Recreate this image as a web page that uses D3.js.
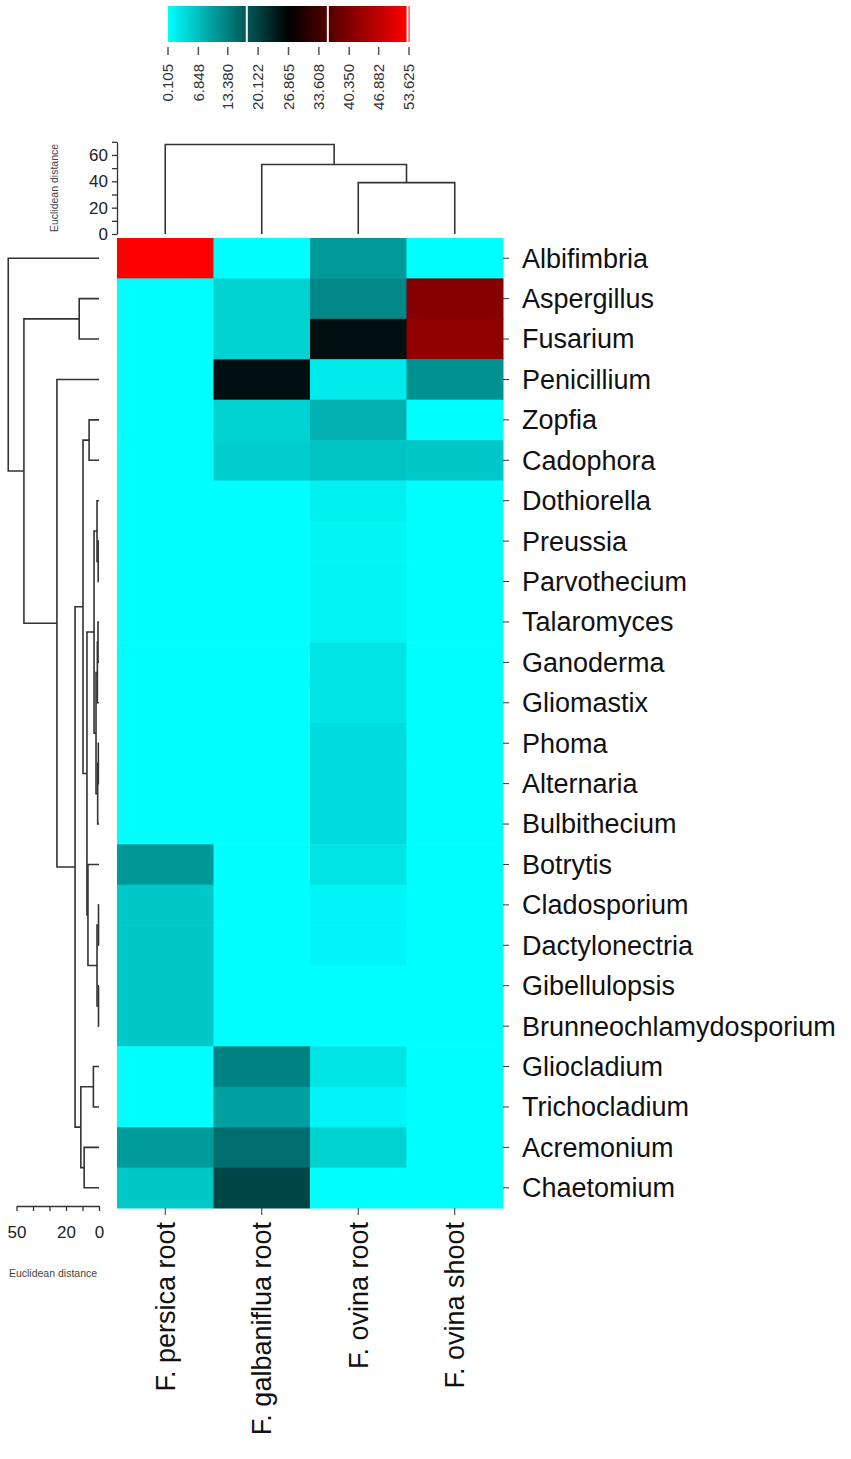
<!DOCTYPE html>
<html>
<head>
<meta charset="utf-8">
<title>Fungal genera heatmap</title>
<script src="https://cdn.jsdelivr.net/npm/d3@7"></script>
<style>
  body { margin: 0; background: #fff; }
  text { font-family: "Liberation Sans", Arial, sans-serif; }
</style>
</head>
<body>
<div id="chart"></div>
<script>
// rows (genera) in dendrogram order, columns (samples)
const rowNames = [
  "Albifimbria", "Aspergillus", "Fusarium", "Penicillium", "Zopfia", "Cadophora",
  "Dothiorella", "Preussia", "Parvothecium", "Talaromyces", "Ganoderma", "Gliomastix",
  "Phoma", "Alternaria", "Bulbithecium", "Botrytis", "Cladosporium", "Dactylonectria",
  "Gibellulopsis", "Brunneochlamydosporium", "Gliocladium", "Trichocladium",
  "Acremonium", "Chaetomium"
];
const colNames = ["F. persica root", "F. galbaniflua root", "F. ovina root", "F. ovina shoot"];

// cell values, one array per column, same order as rowNames
const persicaRoot = [53.625, 0.105, 0.105, 0.105, 0.105, 0.105, 0.105, 0.105, 0.105, 0.105, 0.105, 0.105,
  0.105, 0.105, 0.105, 11.0, 5.9, 5.9, 5.9, 5.9, 0.105, 0.105, 10.6, 5.9];
const galbanifluaRoot = [0.105, 4.9, 4.9, 25.3, 4.9, 5.4, 0.105, 0.105, 0.105, 0.105, 0.105, 0.105,
  0.105, 0.105, 0.105, 0.105, 0.105, 0.105, 0.105, 0.105, 13.2, 10.1, 15.3, 19.5];
const ovinaRoot = [10.7, 12.7, 25.3, 2.2, 8.5, 6.4, 1.8, 1.2, 1.2, 1.2, 2.9, 2.9,
  3.9, 3.9, 3.9, 2.9, 1.1, 1.1, 0.105, 0.105, 2.9, 1.1, 4.8, 0.105];
const ovinaShoot = [0.105, 41.0, 42.0, 11.6, 0.105, 5.9, 0.105, 0.105, 0.105, 0.105, 0.105, 0.105,
  0.105, 0.105, 0.105, 0.105, 0.105, 0.105, 0.105, 0.105, 0.105, 0.105, 0.105, 0.105];

// hclust style merges: [left, right, height]; a string is a leaf, a number an earlier merge
const rowMerges = [
  ["Aspergillus", "Fusarium", 12],          // 0
  ["Zopfia", "Cadophora", 6],               // 1
  ["Preussia", "Parvothecium", 0.5],        // 2
  ["Dothiorella", 2, 1.2],                  // 3
  ["Talaromyces", "Ganoderma", 0.6],        // 4
  [4, "Gliomastix", 1.0],                   // 5
  ["Phoma", "Alternaria", 0.4],             // 6
  [6, "Bulbithecium", 0.8],                 // 7
  [5, 7, 1.8],                              // 8
  [3, 8, 3],                                // 9
  ["Cladosporium", "Dactylonectria", 0.3],  // 10
  ["Gibellulopsis", "Brunneochlamydosporium", 0.3], // 11
  [10, 11, 1.2],                            // 12
  ["Botrytis", 12, 6.7],                    // 13
  [9, 13, 7.3],                             // 14
  [1, 14, 9.7],                             // 15
  ["Gliocladium", "Trichocladium", 3.4],    // 16
  ["Acremonium", "Chaetomium", 9],          // 17
  [16, 17, 11],                             // 18
  [15, 18, 14.5],                           // 19
  ["Penicillium", 19, 25.5],                // 20
  [0, 20, 45.5],                            // 21
  ["Albifimbria", 21, 55]                   // 22
];
const colMerges = [
  ["F. ovina root", "F. ovina shoot", 39],
  ["F. galbaniflua root", 0, 52.8],
  ["F. persica root", 1, 68]
];

// axes and legend
const rowAxisTicks = [0, 10, 20, 30, 40, 50];
const rowAxisLabels = [50, 20, 0];
const colAxisTicks = [0, 10, 20, 30, 40, 50, 60, 70];
const colAxisLabels = [0, 20, 40, 60];
const legendTicks = [0.105, 6.848, 13.380, 20.122, 26.865, 33.608, 40.350, 46.882, 53.625];
const legendBreaks = [17.6, 35.6, 53.3];

const W = 851, H = 1459;
const svg = d3.select("#chart").append("svg")
  .attr("width", W)
  .attr("height", H);
svg.append("rect").attr("width", W).attr("height", H).attr("fill", "#fff");

const x = d3.scaleBand().domain(colNames).range([117, 503]);
const y = d3.scaleBand().domain(rowNames).range([238, 1208]);
const rowH = d3.scaleLinear().domain([0, 50]).range([99, 16.5]);
const colH = d3.scaleLinear().domain([0, 70]).range([234, 141.8]);
const color = d3.scaleLinear()
  .domain([0.105, 26.865, 53.625])
  .range(["#00ffff", "#000000", "#ff0000"])
  .clamp(true);

// heatmap
const matrix = [persicaRoot, galbanifluaRoot, ovinaRoot, ovinaShoot];
const cells = rowNames.flatMap(function (r, i) {
  return colNames.map(function (c, j) {
    return { row: r, col: c, value: matrix[j][i] };
  });
});

svg.append("g").selectAll("rect")
  .data(cells)
  .enter().append("rect")
  .attr("x", d => x(d.col))
  .attr("y", d => y(d.row))
  .attr("width", x.bandwidth() + 0.5)
  .attr("height", y.bandwidth() + 0.5)
  .attr("fill", d => color(d.value));

// dendrograms
function buildTree(merges, leafPos) {
  const nodes = [];
  const get = ref => typeof ref === "string" ? { pos: leafPos(ref), h: 0 } : nodes[ref];
  merges.forEach(function (m) {
    const a = get(m[0]), b = get(m[1]);
    nodes.push({ a: a, b: b, h: m[2], pos: (a.pos + b.pos) / 2 });
  });
  return nodes;
}

const line = d3.line();

const rowTree = buildTree(rowMerges, r => y(r) + y.bandwidth() / 2);
svg.append("g")
  .attr("fill", "none")
  .attr("stroke", "#333")
  .attr("stroke-width", 1.6)
  .selectAll("path")
  .data(rowTree)
  .enter().append("path")
  .attr("d", d => line([
    [rowH(d.a.h), d.a.pos], [rowH(d.h), d.a.pos],
    [rowH(d.h), d.b.pos], [rowH(d.b.h), d.b.pos]
  ]));

const colTree = buildTree(colMerges, c => x(c) + x.bandwidth() / 2);
svg.append("g")
  .attr("fill", "none")
  .attr("stroke", "#333")
  .attr("stroke-width", 1.6)
  .selectAll("path")
  .data(colTree)
  .enter().append("path")
  .attr("d", d => line([
    [d.a.pos, colH(d.a.h)], [d.a.pos, colH(d.h)],
    [d.b.pos, colH(d.h)], [d.b.pos, colH(d.b.h)]
  ]));

// dendrogram axes
const rowAxis = svg.append("g")
  .attr("transform", "translate(0,1206)")
  .call(d3.axisBottom(rowH)
    .tickValues(rowAxisTicks)
    .tickSize(5)
    .tickSizeOuter(0)
    .tickFormat(d => rowAxisLabels.includes(d) ? d : ""));
rowAxis.attr("font-size", 17).attr("font-family", "Liberation Sans, Arial, sans-serif");
rowAxis.selectAll("path, line").attr("stroke", "#333").attr("stroke-width", 1.3);
rowAxis.selectAll("text").attr("y", 20).attr("fill", "#222");

const colAxis = svg.append("g")
  .attr("transform", "translate(117,0)")
  .call(d3.axisLeft(colH)
    .tickValues(colAxisTicks)
    .tickSize(5)
    .tickSizeOuter(0)
    .tickFormat(d => colAxisLabels.includes(d) ? d : ""));
colAxis.attr("font-size", 17).attr("font-family", "Liberation Sans, Arial, sans-serif");
colAxis.selectAll("path, line").attr("stroke", "#333").attr("stroke-width", 1.3);
colAxis.selectAll("text").attr("x", -9).attr("fill", "#222");

svg.append("text")
  .attr("transform", "translate(58,188)rotate(-90)")
  .attr("text-anchor", "middle")
  .attr("font-size", 10.5)
  .attr("fill", "#444")
  .text("Euclidean distance");

svg.append("text")
  .attr("x", 53)
  .attr("y", 1277)
  .attr("text-anchor", "middle")
  .attr("font-size", 10.5)
  .attr("fill", "#444")
  .text("Euclidean distance");

// row and column labels with small ticks
svg.append("g").selectAll("line")
  .data(rowNames)
  .enter().append("line")
  .attr("x1", 503).attr("x2", 509)
  .attr("y1", d => y(d) + y.bandwidth() / 2)
  .attr("y2", d => y(d) + y.bandwidth() / 2)
  .attr("stroke", "#333");

svg.append("g").selectAll("text")
  .data(rowNames)
  .enter().append("text")
  .attr("x", 522)
  .attr("y", d => y(d) + y.bandwidth() / 2)
  .attr("dy", "0.35em")
  .attr("font-size", 27)
  .attr("fill", "#111")
  .text(d => d);

svg.append("g").selectAll("line")
  .data(colNames)
  .enter().append("line")
  .attr("x1", d => x(d) + x.bandwidth() / 2)
  .attr("x2", d => x(d) + x.bandwidth() / 2)
  .attr("y1", 1208).attr("y2", 1215)
  .attr("stroke", "#333");

svg.append("g").selectAll("text")
  .data(colNames)
  .enter().append("text")
  .attr("transform", d => "translate(" + (x(d) + x.bandwidth() / 2) + ",1222)rotate(-90)")
  .attr("dy", "0.35em")
  .attr("text-anchor", "end")
  .attr("font-size", 27)
  .attr("fill", "#111")
  .text(d => d);

// colour key
const lx = d3.scaleLinear().domain([0.105, 53.625]).range([168, 409]);
const bounds = [0.105].concat(legendBreaks, [53.625]);
const segments = d3.pairs(bounds);
const defs = svg.append("defs");
segments.forEach(function (s, i) {
  const g = defs.append("linearGradient").attr("id", "seg" + i);
  d3.range(0, 1.0001, 0.1).forEach(function (t) {
    g.append("stop")
      .attr("offset", t)
      .attr("stop-color", color(s[0] + t * (s[1] - s[0])));
  });
});
svg.append("g").selectAll("rect")
  .data(segments)
  .enter().append("rect")
  .attr("x", (d, i) => lx(d[0]) + (i ? 1 : 0))
  .attr("y", 6)
  .attr("width", (d, i) => Math.max(1, lx(d[1]) - lx(d[0]) - (i ? 1 : 0) - 1))
  .attr("height", 36)
  .attr("fill", (d, i) => "url(#seg" + i + ")");

svg.append("g").selectAll("line")
  .data(legendTicks)
  .enter().append("line")
  .attr("x1", d => lx(d)).attr("x2", d => lx(d))
  .attr("y1", 47).attr("y2", 55)
  .attr("stroke", "#555")
  .attr("stroke-width", 1.5);

svg.append("g").selectAll("text")
  .data(legendTicks)
  .enter().append("text")
  .attr("transform", d => "translate(" + lx(d) + ",64)rotate(-90)")
  .attr("dy", "0.35em")
  .attr("text-anchor", "end")
  .attr("font-size", 15)
  .attr("fill", "#333")
  .text(d => d.toFixed(3));
</script>
</body>
</html>
